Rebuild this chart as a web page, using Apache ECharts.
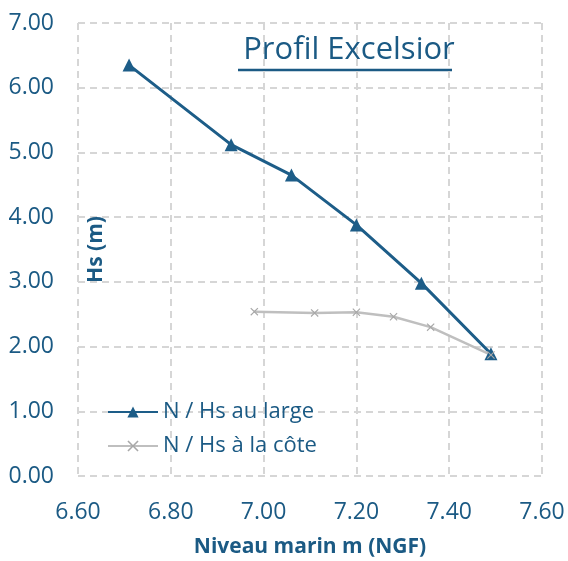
<!DOCTYPE html>
<html>
<head>
<meta charset="utf-8">
<script src="https://cdn.jsdelivr.net/npm/echarts@6/dist/echarts.min.js"></script>
<style>
    html, body { margin: 0; padding: 0; background: #fff; }
    #container { width: 568px; height: 561px; }
</style>
</head>
<body>
<div id="container"></div>
<script>
    // Hs au large (triangles)
    let largeX = [6.71, 6.93, 7.06, 7.20, 7.34, 7.49];
    let largeY = [6.35, 5.12, 4.65, 3.88, 2.98, 1.89];
    // Hs à la côte (croix)
    let coteX = [6.98, 7.11, 7.20, 7.28, 7.36, 7.49];
    let coteY = [2.54, 2.52, 2.53, 2.46, 2.30, 1.87];
    let legendData = ['N / Hs au large', 'N / Hs à la côte'];

    let blue = '#1d5d88';
    let textBlue = '#1b5a84';
    let gray = '#bfbfbf';
    let font = 'Open Sans';

    function toPairs(xs, ys) {
        let out = [];
        for (let i = 0; i < xs.length; i++) {
            out.push([xs[i], ys[i]]);
        }
        return out;
    }

    let myChart = echarts.init(document.getElementById('container'));
    let option = {
        animation: false,
        textStyle: { fontFamily: font },
        title: {
            text: 'Profil Excelsior',
            left: 344,
            top: 30,
            textAlign: 'center',
            textStyle: { color: textBlue, fontSize: 31, fontWeight: 'normal', fontFamily: font }
        },
        graphic: [{
            // soulignement du titre
            type: 'line',
            shape: { x1: 238, y1: 70, x2: 452, y2: 70 },
            style: { stroke: textBlue, lineWidth: 2.5 }
        }],
        legend: {
            data: legendData,
            orient: 'vertical',
            left: 102,
            top: 396,
            itemWidth: 50,
            itemHeight: 14,
            itemGap: 12,
            textStyle: { color: textBlue, fontSize: 22, fontFamily: font }
        },
        grid: {
            left: 78,
            right: 26,
            top: 23,
            bottom: 85,
            containLabel: false,
            outerBoundsMode: 'none'
        },
        xAxis: {
            type: 'value',
            min: 6.6,
            max: 7.6,
            interval: 0.2,
            name: 'Niveau marin m (NGF)',
            nameLocation: 'middle',
            nameGap: 61,
            nameTextStyle: { color: textBlue, fontSize: 21, fontWeight: 'bold', fontFamily: font },
            axisLine: { show: false },
            axisTick: { show: false },
            axisLabel: {
                color: textBlue,
                fontSize: 23,
                margin: 25,
                formatter: function(v) { return v.toFixed(2); }
            },
            splitLine: { show: true, lineStyle: { color: '#d6d6d6', width: 2, type: [7, 5] } }
        },
        yAxis: {
            type: 'value',
            min: 0,
            max: 7,
            interval: 1,
            name: 'Hs (m)',
            nameLocation: 'middle',
            nameRotate: 90,
            nameGap: -29,
            nameMoveOverlap: false,
            nameTextStyle: { color: textBlue, fontSize: 21, fontWeight: 'bold', fontFamily: font },
            axisLine: { show: false },
            axisTick: { show: false },
            axisLabel: {
                color: textBlue,
                fontSize: 23,
                margin: 24,
                formatter: function(v) { return v.toFixed(2); }
            },
            splitLine: { show: true, lineStyle: { color: '#d6d6d6', width: 2, type: [7, 5] } }
        },
        series: [{
            name: legendData[0],
            type: 'line',
            data: toPairs(largeX, largeY),
            symbol: 'triangle',
            symbolSize: 13,
            lineStyle: { color: blue, width: 3 },
            itemStyle: { color: blue }
        }, {
            name: legendData[1],
            type: 'line',
            data: toPairs(coteX, coteY),
            symbol: 'path://M0 1L1 0L5 4L9 0L10 1L6 5L10 9L9 10L5 6L1 10L0 9L4 5Z',
            symbolSize: 8,
            lineStyle: { color: gray, width: 2.5 },
            itemStyle: { color: '#a8a8a8' }
        }]
    };
    myChart.setOption(option, true);
</script>
</body>
</html>
